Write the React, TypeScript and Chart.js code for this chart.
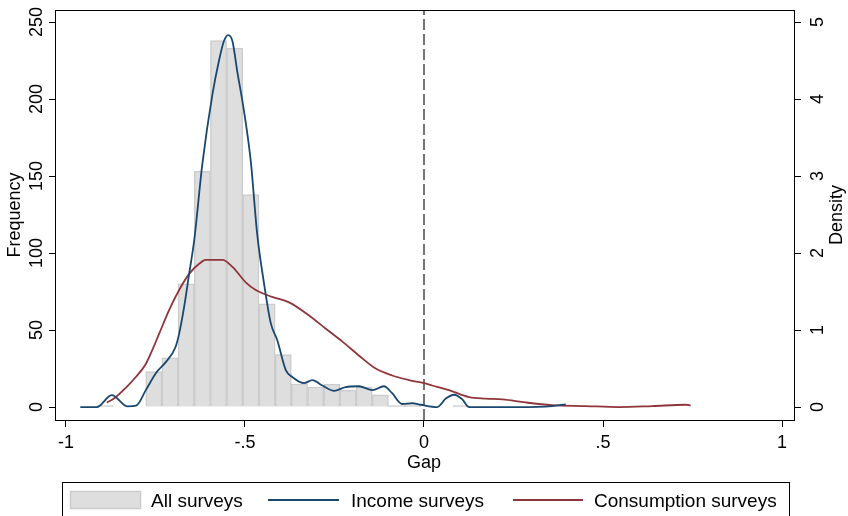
import { useEffect, useRef } from "react";
import { Chart, registerables } from "chart.js";

Chart.register(...registerables);

const FONT = "'Liberation Sans', Arial, sans-serif";

// Axis ticks
const xTickValues = [-1, -0.5, 0, 0.5, 1];
const xTickLabels = ["-1", "-.5", "0", ".5", "1"];
const freqTicks = [0, 50, 100, 150, 200, 250];
const densityTicks = [0, 1, 2, 3, 4, 5];

// Histogram (All surveys): bin centres and frequencies
const histCenters = [
  -0.8903, -0.8451, -0.7999, -0.7547, -0.7095, -0.6643, -0.6191, -0.5739,
  -0.5287, -0.4835, -0.4383, -0.3931, -0.3479, -0.3027, -0.2575, -0.2123,
  -0.1671, -0.1219, -0.0767, -0.0315, 0.0137, 0.0589, 0.1041,
];
const histCounts = [
  1, 0, 0, 23, 32, 80, 153, 238, 233, 138, 67, 34, 15, 13, 15, 11, 13, 8, 1, 2,
  0, 0, 1,
];

// Kernel density: Income surveys
const incomeX = [
  -0.96, -0.914, -0.872, -0.829, -0.804, -0.777, -0.749, -0.722, -0.694,
  -0.684, -0.67, -0.656, -0.642, -0.619, -0.591, -0.573, -0.559, -0.547,
  -0.535, -0.522, -0.503, -0.484, -0.466, -0.447, -0.428, -0.41, -0.386,
  -0.368, -0.335, -0.312, -0.284, -0.251, -0.219, -0.182, -0.144, -0.112,
  -0.089, -0.061, -0.033, -0.009, 0.037, 0.061, 0.084, 0.107, 0.126, 0.172,
  0.265, 0.358, 0.396,
];
const incomeDensity = [
  0.0, 0.0, 0.155, 0.01, 0.02, 0.22, 0.44, 0.58, 0.78, 0.95, 1.3, 1.73, 2.16,
  3.16, 4.06, 4.49, 4.75, 4.83, 4.75, 4.37, 3.85, 3.2, 2.25, 1.61, 1.09, 0.87,
  0.48, 0.39, 0.31, 0.35, 0.28, 0.21, 0.26, 0.27, 0.22, 0.27, 0.18, 0.04, 0.05,
  0.03, 0.0, 0.11, 0.16, 0.1, 0.0, 0.0, 0.0, 0.013, 0.035,
];

// Kernel density: Consumption surveys
const consumptionX = [
  -0.886, -0.866, -0.833, -0.805, -0.777, -0.759, -0.74, -0.712, -0.684,
  -0.656, -0.628, -0.61, -0.563, -0.535, -0.498, -0.47, -0.424, -0.377,
  -0.321, -0.275, -0.228, -0.182, -0.135, -0.089, -0.042, 0.0, 0.023, 0.07,
  0.126, 0.172, 0.219, 0.284, 0.358, 0.452, 0.545, 0.638, 0.731, 0.745,
];
const consumptionDensity = [
  0.06, 0.11, 0.25, 0.39, 0.56, 0.74, 0.95, 1.26, 1.52, 1.73, 1.86, 1.91,
  1.91, 1.82, 1.62, 1.52, 1.43, 1.36, 1.19, 1.02, 0.85, 0.67, 0.5, 0.41, 0.35,
  0.31, 0.28, 0.22, 0.13, 0.11, 0.1, 0.06, 0.026, 0.013, 0.0, 0.013, 0.03,
  0.022,
];

const refLineX = [0, 0];
const refLineY = [-8.4, 257.8];

const legendLabels = ["All surveys", "Income surveys", "Consumption surveys"];

const BAR_FILL = "#dedede";
const BAR_EDGE = "#cccccc";
const NAVY = "#1a476f";
const MAROON = "#90353b";

const decorPlugin = {
  id: "stataDecor",
  afterDraw(chart: any) {
    const { ctx, chartArea, scales } = chart;
    const { left, right, top, bottom } = chartArea;
    ctx.save();
    // frame
    ctx.strokeStyle = "#000";
    ctx.lineWidth = 1;
    ctx.strokeRect(left + 0.5, top + 0.5, right - left - 1, bottom - top);

    ctx.fillStyle = "#000";
    ctx.font = `18px ${FONT}`;

    const drawRot = (text: string, x: number, y: number) => {
      ctx.save();
      ctx.translate(x, y);
      ctx.rotate(-Math.PI / 2);
      ctx.textAlign = "center";
      ctx.textBaseline = "alphabetic";
      ctx.fillText(text, 0, 0);
      ctx.restore();
    };
    freqTicks.forEach((v) => drawRot(String(v), 42, scales.y.getPixelForValue(v)));
    densityTicks.forEach((v) =>
      drawRot(String(v), 823, scales.y2.getPixelForValue(v))
    );
    const midY = (top + bottom) / 2;
    drawRot("Frequency", 20, midY);
    drawRot("Density", 842, midY);

    // x tick labels
    ctx.textAlign = "center";
    ctx.textBaseline = "alphabetic";
    xTickValues.forEach((v, i) =>
      ctx.fillText(xTickLabels[i], scales.x.getPixelForValue(v), 448)
    );
    ctx.fillText("Gap", scales.x.getPixelForValue(0), 468);

    // legend
    ctx.strokeStyle = "#000";
    ctx.lineWidth = 1;
    ctx.strokeRect(62.5, 482.5, 727, 40);
    ctx.fillStyle = BAR_FILL;
    ctx.fillRect(70, 491, 71, 18);
    ctx.strokeStyle = BAR_EDGE;
    ctx.lineWidth = 1.5;
    ctx.strokeRect(70.5, 491.5, 70, 17);
    ctx.lineWidth = 2;
    ctx.strokeStyle = NAVY;
    ctx.beginPath();
    ctx.moveTo(268, 500);
    ctx.lineTo(339, 500);
    ctx.stroke();
    ctx.strokeStyle = MAROON;
    ctx.beginPath();
    ctx.moveTo(513, 500);
    ctx.lineTo(583, 500);
    ctx.stroke();
    ctx.fillStyle = "#000";
    ctx.font = `19px ${FONT}`;
    ctx.textAlign = "left";
    ctx.fillText(legendLabels[0], 151, 507);
    ctx.fillText(legendLabels[1], 351, 507);
    ctx.fillText(legendLabels[2], 594, 507);
    ctx.restore();
  },
};

export default function App() {
  const canvasRef = useRef<HTMLCanvasElement | null>(null);

  useEffect(() => {
    document.body.style.margin = "0";
    const canvas = canvasRef.current;
    if (!canvas) return;

    const fixedTicks = (vals: number[]) => (scale: any) => {
      scale.ticks = vals.map((v) => ({ value: v }));
    };

    const chart = new Chart(canvas, {
      data: {
        datasets: [
          {
            type: "bar",
            label: legendLabels[0],
            data: histCenters.map((x, i) => ({ x, y: histCounts[i] })),
            backgroundColor: BAR_FILL,
            borderColor: BAR_EDGE,
            borderWidth: 1.5,
            barPercentage: 1,
            categoryPercentage: 1,
            xAxisID: "x",
            yAxisID: "y",
            order: 4,
          } as any,
          {
            type: "line",
            label: "xline",
            data: refLineX.map((x, i) => ({ x, y: refLineY[i] })),
            borderColor: "#3a3a3a",
            borderWidth: 1.4,
            borderDash: [11, 4],
            pointRadius: 0,
            xAxisID: "x",
            yAxisID: "y",
            order: 3,
          },
          {
            type: "line",
            label: legendLabels[2],
            data: consumptionX.map((x, i) => ({ x, y: consumptionDensity[i] })),
            borderColor: MAROON,
            borderWidth: 1.8,
            pointRadius: 0,
            cubicInterpolationMode: "monotone",
            xAxisID: "x",
            yAxisID: "y2",
            order: 2,
          },
          {
            type: "line",
            label: legendLabels[1],
            data: incomeX.map((x, i) => ({ x, y: incomeDensity[i] })),
            borderColor: NAVY,
            borderWidth: 1.8,
            pointRadius: 0,
            cubicInterpolationMode: "monotone",
            xAxisID: "x",
            yAxisID: "y2",
            order: 1,
          },
        ],
      },
      options: {
        responsive: false,
        animation: false,
        devicePixelRatio: 1,
        layout: { padding: { top: 10, left: 0, right: 0, bottom: 0 } },
        plugins: {
          legend: { display: false },
          tooltip: { enabled: false },
        },
        scales: {
          x: {
            type: "linear",
            position: "bottom",
            offset: false,
            min: -1.0307,
            max: 1.0363,
            afterBuildTicks: fixedTicks(xTickValues),
            afterFit: (s: any) => {
              s.height = 96;
            },
            ticks: { display: false },
            grid: {
              display: true,
              offset: false,
              drawOnChartArea: false,
              drawTicks: true,
              tickLength: 7,
              color: "#000",
              lineWidth: 1,
            },
            border: { display: false },
          },
          y: {
            type: "linear",
            position: "left",
            min: -8.4,
            max: 257.8,
            afterBuildTicks: fixedTicks(freqTicks),
            afterFit: (s: any) => {
              s.width = 55;
            },
            ticks: { display: false },
            grid: {
              display: true,
              drawOnChartArea: false,
              drawTicks: true,
              tickLength: 6,
              color: "#000",
              lineWidth: 1,
            },
            border: { display: false },
          },
          y2: {
            type: "linear",
            position: "right",
            min: -0.168,
            max: 5.156,
            afterBuildTicks: fixedTicks(densityTicks),
            afterFit: (s: any) => {
              s.width = 53;
            },
            ticks: { display: false },
            grid: {
              display: true,
              drawOnChartArea: false,
              drawTicks: true,
              tickLength: 6,
              color: "#000",
              lineWidth: 1,
            },
            border: { display: false },
          },
        },
      } as any,
      plugins: [decorPlugin],
    });

    return () => chart.destroy();
  }, []);

  return (
    <div style={{ width: 848, height: 516, background: "#fff" }}>
      <canvas
        ref={canvasRef}
        width={848}
        height={516}
        style={{ display: "block", width: 848, height: 516 }}
      />
    </div>
  );
}
